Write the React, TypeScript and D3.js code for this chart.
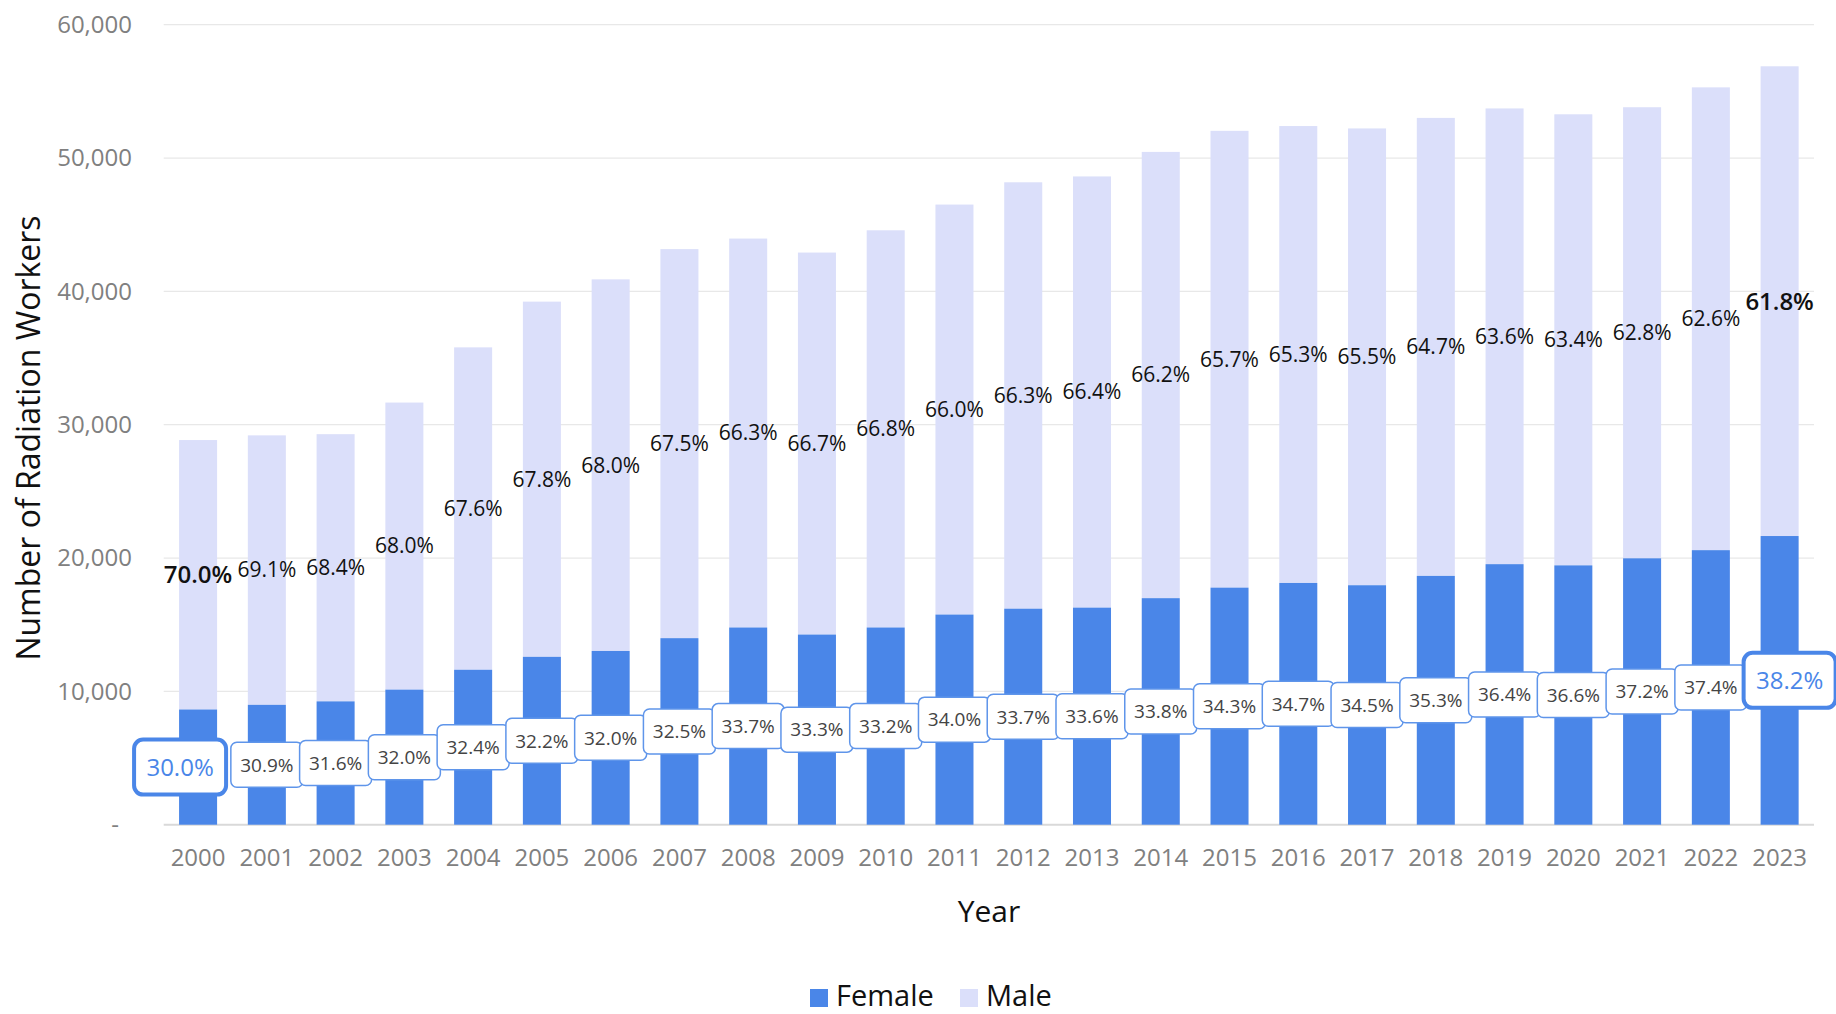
import React from "react";
import * as d3 from "d3";

const years = ["2000", "2001", "2002", "2003", "2004", "2005", "2006", "2007", "2008", "2009", "2010", "2011",
  "2012", "2013", "2014", "2015", "2016", "2017", "2018", "2019", "2020", "2021", "2022", "2023"];

const female = [8640, 8990, 9250, 10130, 11620, 12590, 13030, 13990, 14790, 14260, 14790, 15760,
  16200, 16280, 16990, 17780, 18130, 17960, 18660, 19540, 19450, 19980, 20590, 21650];

const male = [20210, 20210, 20040, 21530, 24180, 26640, 27870, 29180, 29170, 28650, 29790, 30750,
  31980, 32340, 33470, 34260, 34270, 34260, 34350, 34180, 33830, 33830, 34710, 35230];

const femalePct = ["30.0%", "30.9%", "31.6%", "32.0%", "32.4%", "32.2%", "32.0%", "32.5%", "33.7%", "33.3%", "33.2%", "34.0%",
  "33.7%", "33.6%", "33.8%", "34.3%", "34.7%", "34.5%", "35.3%", "36.4%", "36.6%", "37.2%", "37.4%", "38.2%"];

const malePct = ["70.0%", "69.1%", "68.4%", "68.0%", "67.6%", "67.8%", "68.0%", "67.5%", "66.3%", "66.7%", "66.8%", "66.0%",
  "66.3%", "66.4%", "66.2%", "65.7%", "65.3%", "65.5%", "64.7%", "63.6%", "63.4%", "62.8%", "62.6%", "61.8%"];

const yTicks = [0, 10000, 20000, 30000, 40000, 50000, 60000];

const FEMALE_COLOR = "#4a86e8";
const MALE_COLOR = "#dbdffa";
const FONT = "'Open Sans', 'Noto Sans', sans-serif";

function App() {
  const w = 1836, h = 1014;
  const left = 163.7, right = 1814, top = 24.7, bottom = 824.7;

  const x = d3.scaleBand()
    .domain(years)
    .range([left, right])
    .paddingInner(0.447)
    .paddingOuter(0.2235);

  const y = d3.scaleLinear()
    .domain([0, 60000])
    .range([bottom, top]);

  const fmt = d3.format(",");
  const last = years.length - 1;

  const grid = yTicks.map((t, i) => (
    <g key={i}>
      <line x1={left} x2={right} y1={y(t)} y2={y(t)}
        stroke={t === 0 ? "#d9d9d9" : "#e8e8e8"} strokeWidth={t === 0 ? 2 : 1.3} />
      <text x={t === 0 ? 119 : 132} y={y(t)} dy="0.35em" textAnchor="end"
        fontSize={24} fill="#808080">{t === 0 ? "-" : fmt(t)}</text>
    </g>
  ));

  const bars = years.map((yr, i) => {
    const total = female[i] + male[i];
    return (
      <g key={yr}>
        <rect x={x(yr)} width={x.bandwidth()} y={y(total)} height={y(female[i]) - y(total)} fill={MALE_COLOR} />
        <rect x={x(yr)} width={x.bandwidth()} y={y(female[i])} height={bottom - y(female[i])} fill={FEMALE_COLOR} />
      </g>
    );
  });

  const maleLabels = years.map((yr, i) => {
    const cx = x(yr) + x.bandwidth() / 2;
    const cy = y(female[i] + male[i] / 2);
    const hi = i === 0 || i === last;
    return (
      <text key={yr} x={cx} y={cy} dy="0.35em" textAnchor="middle"
        fontSize={hi ? 24 : 21} fontWeight={hi ? 600 : 400} fill="#111">{malePct[i]}</text>
    );
  });

  const femaleLabels = years.map((yr, i) => {
    const hi = i === 0 || i === last;
    const shift = i === 0 ? -18 : i === last ? 10 : 0;
    const cx = x(yr) + x.bandwidth() / 2 + shift;
    const cy = y(female[i] / 2);
    const bw = hi ? 92 : 72, bh = hi ? 55 : 45;
    return (
      <g key={yr}>
        <rect x={cx - bw / 2} y={cy - bh / 2} width={bw} height={bh} rx={hi ? 9 : 6}
          fill="#fff" stroke={hi ? FEMALE_COLOR : "#5f95ea"} strokeWidth={hi ? 4 : 1.5} />
        <text x={cx} y={cy} dy="0.36em" textAnchor="middle"
          fontSize={hi ? 24 : 19} fill={hi ? FEMALE_COLOR : "#444"}>{femalePct[i]}</text>
      </g>
    );
  });

  const yearLabels = years.map((yr) => (
    <text key={yr} x={x(yr) + x.bandwidth() / 2} y={858} dy="0.35em" textAnchor="middle"
      fontSize={24} fill="#808080">{yr}</text>
  ));

  return (
    <svg width={w} height={h} style={{ position: "absolute", left: 0, top: 0, background: "#fff" }}
      fontFamily={FONT}>
      {grid}
      {bars}
      {maleLabels}
      {femaleLabels}
      {yearLabels}
      <text x={989} y={911} dy="0.35em" textAnchor="middle" fontSize={30} fill="#111">Year</text>
      <text transform={`translate(29,438) rotate(-90)`} dy="0.35em" textAnchor="middle"
        fontSize={32} fill="#111">Number of Radiation Workers</text>
      <g>
        <rect x={810} y={989} width={18} height={18} fill={FEMALE_COLOR} />
        <text x={836} y={1006} fontSize={29} fill="#111">Female</text>
        <rect x={960} y={989} width={18} height={18} fill={MALE_COLOR} />
        <text x={986} y={1006} fontSize={29} fill="#111">Male</text>
      </g>
    </svg>
  );
}

export default App;
